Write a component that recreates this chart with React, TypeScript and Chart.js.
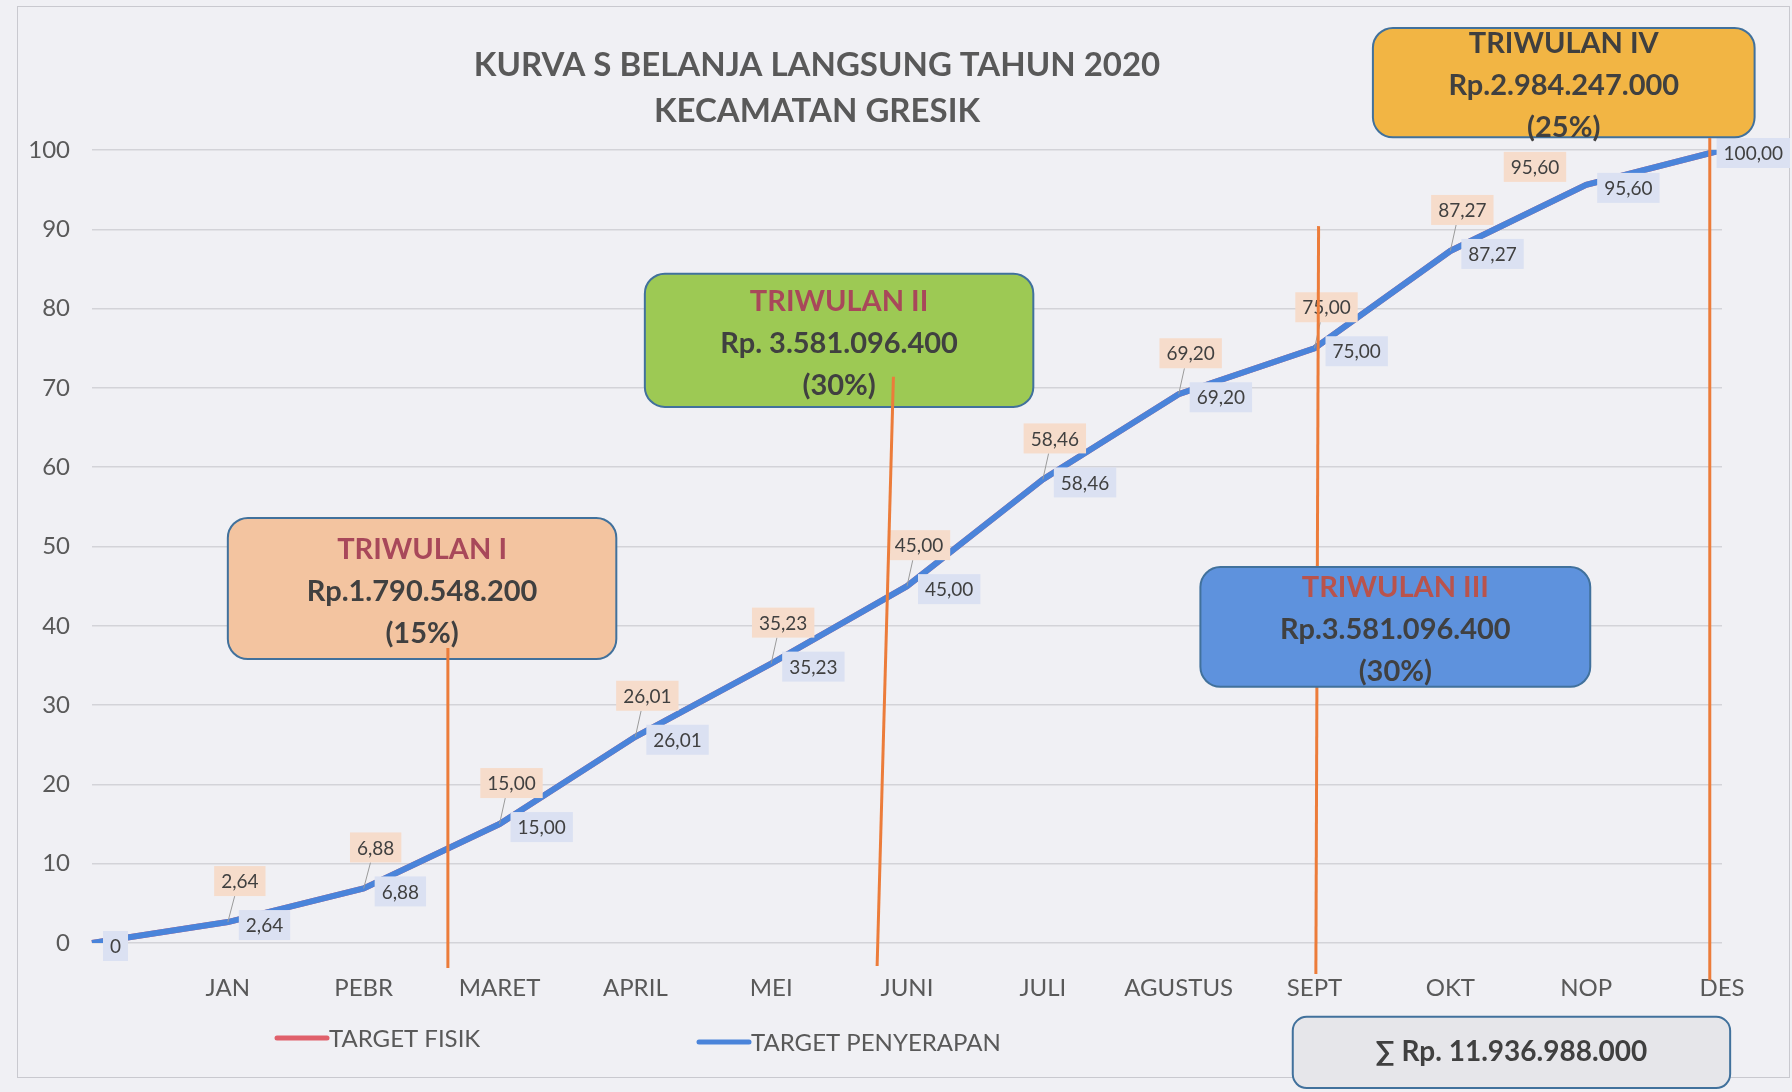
import React, { useEffect, useRef } from "react";
import { Chart, registerables } from "chart.js";

Chart.register(...registerables);

// ---- data ----
const MONTHS = ["", "JAN", "PEBR", "MARET", "APRIL", "MEI", "JUNI", "JULI", "AGUSTUS", "SEPT", "OKT", "NOP", "DES"];
const TARGET_FISIK = [0, 2.64, 6.88, 15.0, 26.01, 35.23, 45.0, 58.46, 69.2, 75.0, 87.27, 95.6, 100.0];
const TARGET_PENYERAPAN = [0, 2.64, 6.88, 15.0, 26.01, 35.23, 45.0, 58.46, 69.2, 75.0, 87.27, 95.6, 100.0];
const SERIES_NAMES = ["TARGET FISIK", "TARGET PENYERAPAN"];
const TITLE_LINES = ["KURVA S BELANJA LANGSUNG TAHUN 2020", "KECAMATAN GRESIK"];
const QUARTER_NAMES = ["TRIWULAN I", "TRIWULAN II", "TRIWULAN III", "TRIWULAN IV"];
const QUARTER_AMOUNTS = ["Rp.1.790.548.200", "Rp. 3.581.096.400", "Rp.3.581.096.400", "Rp.2.984.247.000"];
const QUARTER_SHARES = ["(15%)", "(30%)", "(30%)", "(25%)"];
const TOTAL_TEXT = "\u2211 Rp. 11.936.988.000";

// label placement style for the TARGET FISIK labels ("none" = hidden under the other series' label)
const FISIK_LABEL_POS = ["none", "above", "above", "above", "above", "above", "above", "above", "above", "above", "above", "left", "none"];

// ---- annotation geometry (axis units: x = category index, y = percent) ----
const BOX_X = [[1.0, 3.86], [4.07, 6.93], [8.16, 11.03], [9.43, 12.24]];
const BOX_Y = [[53.6, 35.8], [84.4, 67.6], [47.4, 32.3], [115.4, 101.6]];
const LINE_X_TOP = [2.62, 5.9, 9.03, 11.91];
const LINE_X_BOTTOM = [2.62, 5.78, 9.01, 11.91];
const LINE_Y_TOP = [37.2, 71.4, 90.4, 101.5];
const LINE_Y_BOTTOM = [-3.15, -2.9, -3.9, -4.7];
const TOTAL_BOX_X = [8.84, 12.06];
const TOTAL_BOX_Y = [-9.3, -18.3];

// ---- styles ----
const FONT = "Lato, 'Open Sans', 'Noto Sans', sans-serif";
const BG = "#f0f0f4";
const GRAY_TEXT = "#595959";
const DARK_TEXT = "#404040";
const RED = "#e0606b";
const BLUE = "#4a84da";
const ORANGE_LINE = "#ec7c3a";
const BOX_BORDER = "#41719c";
const BOX_FILLS = ["#f3c4a0", "#9dc954", "#5e92dd", "#f2b544"];
const BOX_TITLE_COLORS = ["#a8485a", "#a8485a", "#b9534c", "#3f3f3f"];

function fmt(v: number): string {
  if (v === 0) return "0";
  return v.toFixed(2).replace(".", ",");
}

export default function App() {
  const ref = useRef<HTMLCanvasElement>(null);

  useEffect(() => {
    const canvas = ref.current;
    if (!canvas) return;

    const overlay = {
      id: "overlay",
      afterDraw(chart: any) {
        const ctx: CanvasRenderingContext2D = chart.ctx;
        const xs = chart.scales.x;
        const ys = chart.scales.y;
        const px = (v: number) => xs.getPixelForValue(v);
        const py = (v: number) => ys.getPixelForValue(v);
        const W = chart.width;

        ctx.save();

        // outer border
        ctx.strokeStyle = "#c9c9cf";
        ctx.lineWidth = 1;
        ctx.strokeRect(17.5, 6.5, 1772, 1071);

        // data labels
        ctx.font = `19px ${FONT}`;
        ctx.textAlign = "center";
        ctx.textBaseline = "middle";
        chart.data.datasets.forEach((ds: any, di: number) => {
          const meta = chart.getDatasetMeta(di);
          meta.data.forEach((pt: any, i: number) => {
            const text = fmt(ds.data[i]);
            const w = ctx.measureText(text).width + 14;
            const h = 30;
            let left: number, top: number;
            if (di === 0) {
              const mode = FISIK_LABEL_POS[i];
              if (mode === "none") return;
              if (mode === "left") {
                left = pt.x - 20 - w;
                top = pt.y - 18 - h / 2;
              } else {
                left = pt.x + 12 - w / 2;
                top = pt.y - 26 - h;
                ctx.strokeStyle = "#9a9a9a";
                ctx.lineWidth = 1;
                ctx.beginPath();
                ctx.moveTo(pt.x, pt.y);
                ctx.lineTo(left + w * 0.4, top + h);
                ctx.stroke();
              }
              ctx.fillStyle = "#f6dccb";
            } else {
              left = Math.min(pt.x + 11, W - 2 - w);
              top = pt.y + 3 - h / 2;
              ctx.fillStyle = "#dbe1f2";
            }
            ctx.fillRect(left, top, w, h);
            ctx.fillStyle = DARK_TEXT;
            ctx.fillText(text, left + w / 2, top + h / 2 + 1);
          });
        });

        const drawBox = (q: number) => {
          const x0 = px(BOX_X[q][0]);
          const x1 = px(BOX_X[q][1]);
          const y0 = py(BOX_Y[q][0]);
          const y1 = py(BOX_Y[q][1]);
          ctx.beginPath();
          (ctx as any).roundRect(x0, y0, x1 - x0, y1 - y0, 20);
          ctx.fillStyle = BOX_FILLS[q];
          ctx.fill();
          ctx.lineWidth = 2;
          ctx.strokeStyle = BOX_BORDER;
          ctx.stroke();
          const cx = (x0 + x1) / 2;
          const cy = (y0 + y1) / 2 + 3;
          ctx.textAlign = "center";
          ctx.textBaseline = "middle";
          ctx.font = `bold 29px ${FONT}`;
          ctx.fillStyle = BOX_TITLE_COLORS[q];
          ctx.fillText(QUARTER_NAMES[q], cx, cy - 42);
          ctx.fillStyle = DARK_TEXT;
          ctx.fillText(QUARTER_AMOUNTS[q], cx, cy);
          ctx.fillText(QUARTER_SHARES[q], cx, cy + 42);
        };

        drawBox(0);
        drawBox(1);
        drawBox(3);

        // quarter divider lines
        ctx.strokeStyle = ORANGE_LINE;
        ctx.lineWidth = 3;
        for (let i = 0; i < LINE_X_TOP.length; i++) {
          ctx.beginPath();
          ctx.moveTo(px(LINE_X_TOP[i]), py(LINE_Y_TOP[i]));
          ctx.lineTo(px(LINE_X_BOTTOM[i]), py(LINE_Y_BOTTOM[i]));
          ctx.stroke();
        }

        drawBox(2);

        // total box
        {
          const x0 = px(TOTAL_BOX_X[0]);
          const x1 = px(TOTAL_BOX_X[1]);
          const y0 = py(TOTAL_BOX_Y[0]);
          const y1 = py(TOTAL_BOX_Y[1]);
          ctx.beginPath();
          (ctx as any).roundRect(x0, y0, x1 - x0, y1 - y0, 14);
          ctx.fillStyle = "#e6e6ea";
          ctx.fill();
          ctx.lineWidth = 2;
          ctx.strokeStyle = BOX_BORDER;
          ctx.stroke();
          ctx.font = `bold 28px ${FONT}`;
          ctx.fillStyle = DARK_TEXT;
          ctx.textAlign = "center";
          ctx.textBaseline = "middle";
          ctx.fillText(TOTAL_TEXT, (x0 + x1) / 2, (y0 + y1) / 2);
        }

        // title
        ctx.font = `bold 33px ${FONT}`;
        ctx.fillStyle = GRAY_TEXT;
        ctx.textAlign = "center";
        ctx.textBaseline = "middle";
        ctx.fillText(TITLE_LINES[0], 817, 65);
        ctx.fillText(TITLE_LINES[1], 817, 111);

        // legend
        const legendItems = [
          { color: RED, x: 277, y: 1038, name: SERIES_NAMES[0] },
          { color: BLUE, x: 699, y: 1042, name: SERIES_NAMES[1] },
        ];
        ctx.font = `24px ${FONT}`;
        ctx.textAlign = "left";
        legendItems.forEach((it) => {
          ctx.strokeStyle = it.color;
          ctx.lineWidth = 5;
          ctx.lineCap = "round";
          ctx.beginPath();
          ctx.moveTo(it.x, it.y);
          ctx.lineTo(it.x + 50, it.y);
          ctx.stroke();
          ctx.fillStyle = GRAY_TEXT;
          ctx.fillText(it.name, it.x + 52, it.y + 1);
        });

        ctx.restore();
      },
    };

    const chart = new Chart(canvas, {
      type: "line",
      data: {
        labels: MONTHS,
        datasets: [
          {
            label: SERIES_NAMES[0],
            data: TARGET_FISIK,
            borderColor: RED,
            backgroundColor: RED,
            borderWidth: 6,
            pointRadius: 0,
            tension: 0,
            order: 2,
          },
          {
            label: SERIES_NAMES[1],
            data: TARGET_PENYERAPAN,
            borderColor: BLUE,
            backgroundColor: BLUE,
            borderWidth: 6,
            pointRadius: 0,
            tension: 0,
            order: 1,
          },
        ],
      },
      options: {
        responsive: false,
        animation: false,
        layout: { padding: { left: 0, right: 70, top: 150, bottom: 89 } },
        scales: {
          x: {
            offset: false,
            grid: { display: false, drawTicks: false },
            border: { display: false },
            ticks: {
              padding: 31,
              color: GRAY_TEXT,
              font: { family: FONT, size: 24 },
              maxRotation: 0,
              autoSkip: false,
            },
            afterFit(s: any) {
              s.height = 60;
            },
          },
          y: {
            min: 0,
            max: 100,
            grid: { color: "#d3d3d8", lineWidth: 1.5, drawTicks: false },
            border: { display: false },
            ticks: {
              stepSize: 10,
              padding: 22,
              color: GRAY_TEXT,
              font: { family: FONT, size: 24 },
            },
            afterFit(s: any) {
              s.width = 92;
            },
          },
        },
        plugins: {
          legend: { display: false },
          title: { display: false },
          tooltip: { enabled: false },
        },
      },
      plugins: [overlay],
    });

    return () => chart.destroy();
  }, []);

  return (
    <div style={{ position: "fixed", left: 0, top: 0, width: 1792, height: 1092, background: BG }}>
      <canvas ref={ref} width={1792} height={1092} style={{ display: "block" }} />
    </div>
  );
}
